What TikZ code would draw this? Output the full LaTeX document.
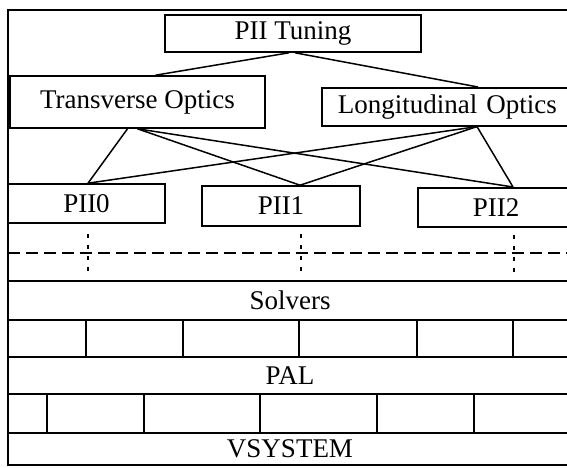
\documentclass[tikz,border=0pt]{standalone}
\usepackage{fontspec}
\setmainfont{Liberation Serif}
\begin{document}
\begin{tikzpicture}[x=1pt,y=-1pt,
		box/.style={draw, line width=1.6pt, inner sep=0pt, font=\fontsize{27}{31}\selectfont},
		link/.style={line width=1.5pt},
		bus/.style={line width=1.5pt, dash pattern=on 12pt off 6pt},
		tap/.style={line width=1.5pt, dash pattern=on 4pt off 7pt}]
		\useasboundingbox (0,0) rectangle (567,468);
		\clip (0,0) rectangle (567,468);
		\draw [line width=1.6pt] (8,10) rectangle (572,465);
		% top of the tree
		\node [box, minimum width=256pt, minimum height=37pt] (tun) at (293,33.5) {PII Tuning};
		\node [box, minimum width=255pt, minimum height=52pt] (tra) at (137.5,102) {Transverse Optics};
		\node [box, anchor=north west, minimum height=38pt, text width=262pt, inner xsep=16pt, align=left] (lon) at (321,87) {Longitudinal Optics};
		\node [box, minimum width=157pt, minimum height=39pt] (p0) at (86.5,203.5) {PII0};
		\node [box, minimum width=158pt, minimum height=40pt] (p1) at (281,206) {PII1};
		\node [box, anchor=north west, minimum height=39pt, text width=150pt, inner xsep=55pt, align=left] (p2) at (417,187) {PII2};
		% layers
		\node [box, minimum width=564pt, minimum height=39pt] (sol) at (290,300.5) {Solvers};
		\node [box, minimum width=564pt, minimum height=37pt] (pal) at (290,375.5) {PAL};
		\node [box, minimum width=564pt, minimum height=32pt] (vsys) at (290,449) {VSYSTEM};
		% links
		\draw [link] ([xshift=-4pt]tun.south) -- ([xshift=18pt]tra.north);
		\draw [link] ([xshift=2pt]tun.south) -- ([xshift=157pt]lon.north west);
		\draw [link] ([xshift=-10pt]tra.south) -- ([xshift=1.5pt]p0.north);
		\draw [link] (tra.south) -- ([xshift=19pt]p1.north);
		\draw [link] (tra.south) -- ([xshift=96pt]p2.north west);
		\draw [link] ([xshift=156pt]lon.south west) -- ([xshift=1.5pt]p0.north);
		\draw [link] ([xshift=156pt]lon.south west) -- ([xshift=19pt]p1.north);
		\draw [link] ([xshift=156pt]lon.south west) -- ([xshift=96pt]p2.north west);
		% bus
		\draw [bus] (8,253) -- (572,253);
		\draw [tap] ([xshift=1.5pt,yshift=-10pt]p0.south) -- ++(0,40);
		\draw [tap] ([xshift=20pt,yshift=-7pt]p1.south) -- ++(0,40);
		\draw [tap] ([xshift=97pt,yshift=-7pt]p2.south west) -- ++(0,40);
		% cells
		\foreach \x in {86, 183, 299, 417, 513} {
			\draw [link] (sol.south -| \x,0) -- (pal.north -| \x,0);
		}
		\foreach \x in {47, 144, 260, 377, 474} {
			\draw [link] (pal.south -| \x,0) -- (vsys.north -| \x,0);
		}
	\end{tikzpicture}
\end{document}
